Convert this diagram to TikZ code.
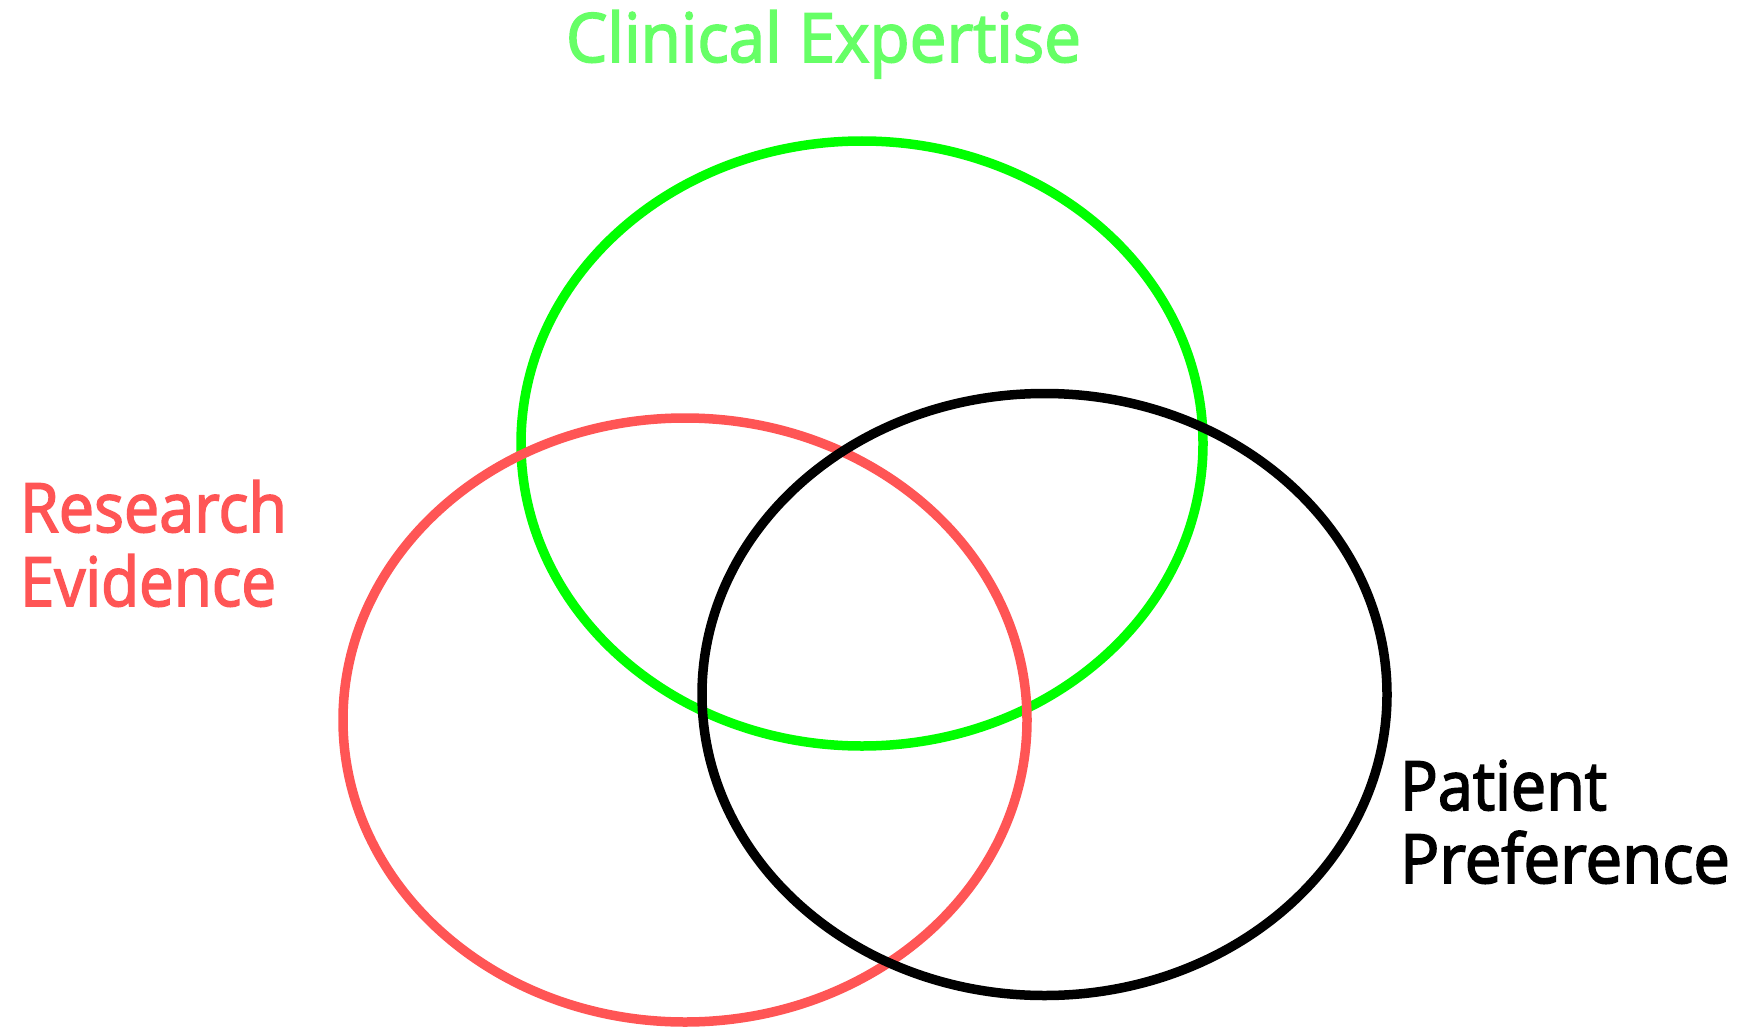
\documentclass[tikz,border=0pt]{standalone}
\usepackage{fontspec}
\setmainfont{Open Sans}
\newfontfamily\lblfont[FakeBold=2.5]{Open Sans}
\usepackage{graphicx}
\definecolor{ringgreen}{HTML}{00FF00}
\definecolor{textgreen}{HTML}{66FF66}
\definecolor{ringred}{HTML}{FF5555}
\newcommand\fitw[2]{\resizebox{#1}{\height}{#2}}
\begin{document}
\begin{tikzpicture}[x=1pt,y=-1pt,
  ring/.style={line width=9.5pt},
  lbl/.style={inner sep=0pt,outer sep=0pt,anchor=base west,font=\lblfont\fontsize{68}{80}\selectfont}]
\useasboundingbox (0,0) rectangle (1758,1030);
\draw[ring,ringgreen] (862,443.5) ellipse [x radius=341, y radius=302.5];
\draw[ring,ringred] (685,720) ellipse [x radius=342, y radius=302];
\draw[ring,black] (1044.5,694.5) ellipse [x radius=342.5, y radius=301];
\node[lbl,text=textgreen] (clin) at (566,62) {\fitw{515pt}{Clinical Expertise}};
\node[lbl,text=ringred] (res) at (20,532) {\fitw{267pt}{Research}};
\node[lbl,text=ringred] (evi) at (20,606) {\fitw{256pt}{Evidence}};
\node[lbl,text=black] (pat) at (1400,810) {\fitw{207pt}{Patient}};
\node[lbl,text=black] (pref) at (1400,883) {\fitw{330pt}{Preference}};
\end{tikzpicture}
\end{document}
